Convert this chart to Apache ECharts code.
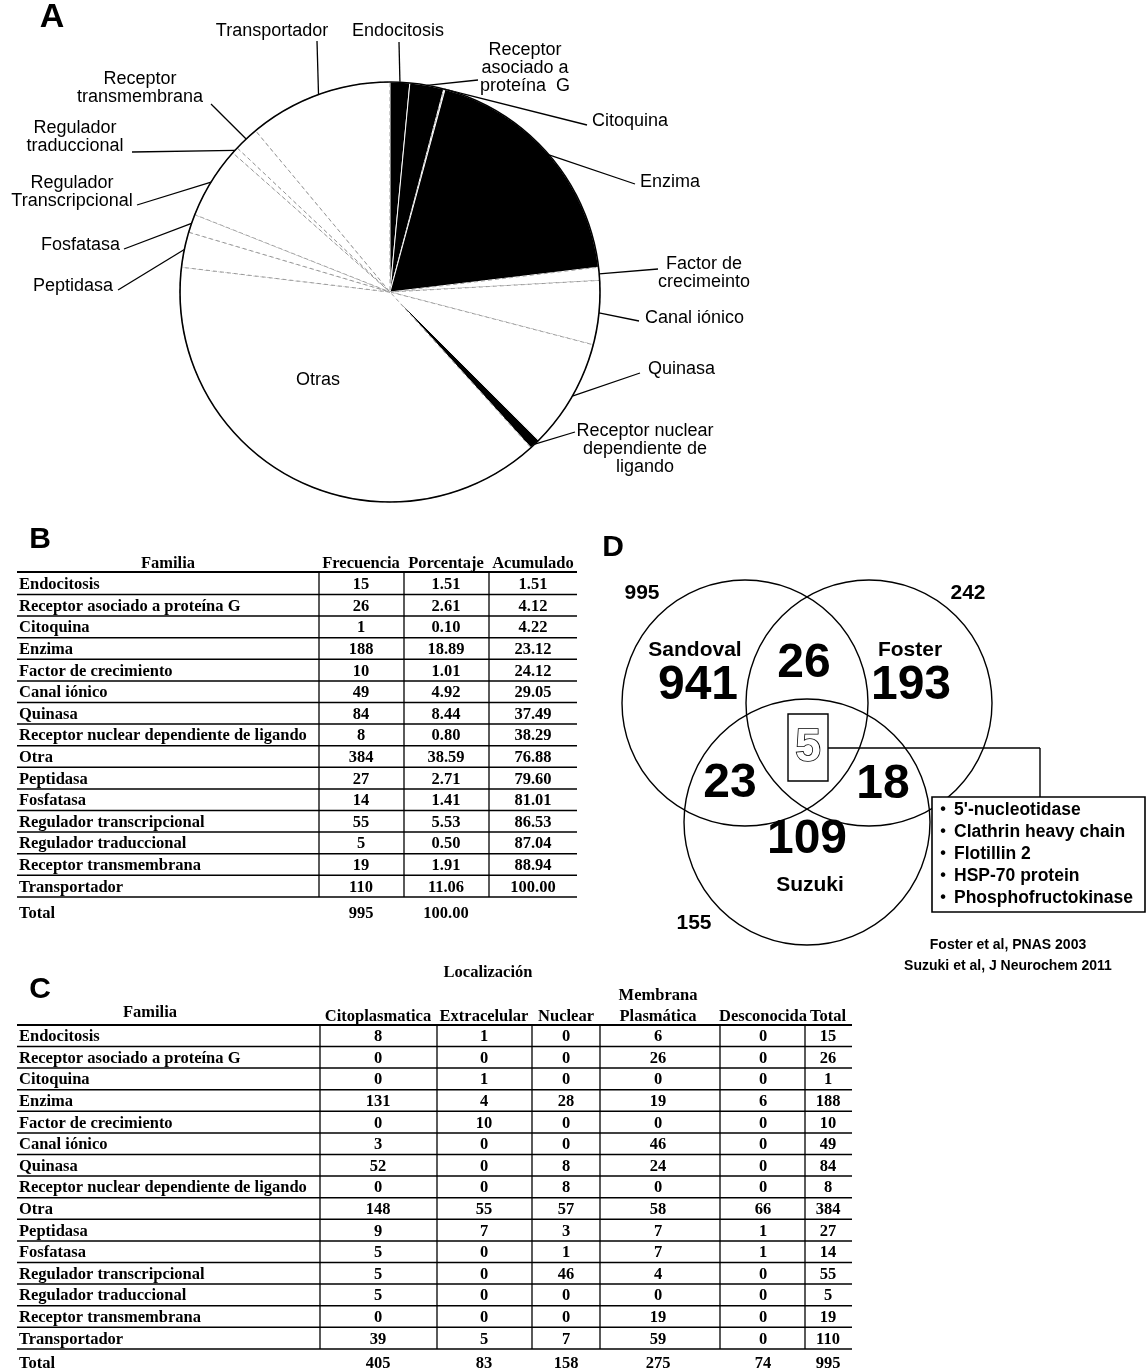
<!DOCTYPE html>
<html><head><meta charset="utf-8">
<script src="https://cdn.jsdelivr.net/npm/echarts@6/dist/echarts.min.js"></script>
<style>html,body{margin:0;padding:0;background:#fff}#c{width:1147px;height:1370px}</style>
</head><body><div id="c"></div><script>
// ---------------- DATA ----------------
const families = ['Endocitosis','Receptor asociado a proteína G','Citoquina','Enzima','Factor de crecimiento','Canal iónico','Quinasa','Receptor nuclear dependiente de ligando','Otra','Peptidasa','Fosfatasa','Regulador transcripcional','Regulador traduccional','Receptor transmembrana','Transportador'];
const pieLabels = ['Endocitosis','Receptor\nasociado a\nproteína  G','Citoquina','Enzima','Factor de\ncrecimeinto','Canal iónico','Quinasa','Receptor nuclear\ndependiente de\nligando','Otras','Peptidasa','Fosfatasa','Regulador\nTranscripcional','Regulador\ntraduccional','Receptor\ntransmembrana','Transportador'];
const frecuencia = [15,26,1,188,10,49,84,8,384,27,14,55,5,19,110];
const porcentaje = ['1.51','2.61','0.10','18.89','1.01','4.92','8.44','0.80','38.59','2.71','1.41','5.53','0.50','1.91','11.06'];
const acumulado = ['1.51','4.12','4.22','23.12','24.12','29.05','37.49','38.29','76.88','79.60','81.01','86.53','87.04','88.94','100.00'];
const headersB = ['Familia','Frecuencia','Porcentaje','Acumulado'];
const totalB = ['995','100.00'];

const headersC = ['Familia','Citoplasmatica','Extracelular','Nuclear','Plasmática','Desconocida','Total'];
const citoplasmatica = [8,0,0,131,0,3,52,0,148,9,5,5,5,0,39];
const extracelular   = [1,0,1,4,10,0,0,0,55,7,0,0,0,0,5];
const nuclear        = [0,0,0,28,0,0,8,8,57,3,1,46,0,0,7];
const membrana       = [6,26,0,19,0,46,24,0,58,7,7,4,0,19,59];
const desconocida    = [0,0,0,6,0,0,0,0,66,1,1,0,0,0,0];
const totalFila      = [15,26,1,188,10,49,84,8,384,27,14,55,5,19,110];
const totalC         = [405,83,158,275,74,995];

const vennSets   = ['Sandoval','Foster','Suzuki'];
const vennTotals = [995,242,155];
const vennOnly   = [941,193,109];
const vennPairs  = [26,23,18]; // S∩F, S∩Su, F∩Su
const vennAll    = 5;
const sharedProteins = ["5'-nucleotidase",'Clathrin heavy chain','Flotillin 2','HSP-70 protein','Phosphofructokinase'];
const references = ['Foster et al, PNAS 2003','Suzuki et al, J Neurochem 2011'];

// ---------------- LAYOUT / STYLE ----------------
const SANS = '"Liberation Sans", Arial, sans-serif';
const SERIF = '"Liberation Serif", "Times New Roman", serif';
const darkSlice = [true,true,false,true,false,false,false,true,false,false,false,false,false,false,false];
const PIE_C = [390, 292], PIE_R = 210;
// label anchor [x, y, align, lineEndX, lineEndY]
const labelPos = [
  [398, 31, 'center', 399, 42],
  [525, 68, 'center', 478, 80],
  [592, 121, 'left', 587, 125],
  [640, 182, 'left', 635, 184],
  [704, 273, 'center', 658, 269],
  [645, 318, 'left', 639, 321],
  [648, 369, 'left', 640, 373],
  [645, 449, 'center', 575, 432],
  [318, 380, 'center', null, null],
  [113, 286, 'right', 118, 290],
  [120, 245, 'right', 124, 249],
  [72, 192, 'center', 137, 205],
  [75, 137, 'center', 132, 152],
  [140, 88, 'center', 211, 104],
  [272, 31, 'center', 317, 41]
];

const totalFreq = frecuencia.reduce((a,b)=>a+b,0);
const cum = []; { let s = 0; frecuencia.forEach(v => { cum.push([s, s+v]); s += v; }); }
function edgePoint(i){
  const a = (cum[i][0]+cum[i][1])/2/totalFreq*2*Math.PI;
  return [PIE_C[0] + PIE_R*Math.sin(a), PIE_C[1] - PIE_R*Math.cos(a)];
}

const pieData = frecuencia.map((v,i)=>({
  name: pieLabels[i], value: v,
  itemStyle: darkSlice[i]
    ? {color:'#000', borderColor:'#fff', borderWidth:1}
    : {color:'#fff', borderColor:'#888', borderWidth:0.8, borderType:[4,3]},
  labelLine: {show: labelPos[i][3] !== null}
}));

const G = [];
function T(x,y,text,font,align,extra){
  G.push(Object.assign({type:'text', x, y, silent:true, style:{text, font, fill:'#000', align: align||'center', verticalAlign:'middle'}}, extra||{}));
}
function L(x1,y1,x2,y2,w){
  G.push({type:'line', silent:true, shape:{x1,y1,x2,y2}, style:{stroke:'#000', lineWidth:w||1.3}});
}

// panel letters
T(52, 18, 'A', 'bold 34px '+SANS);
T(40, 540, 'B', 'bold 30px '+SANS);
T(40, 990, 'C', 'bold 30px '+SANS);
T(613, 548, 'D', 'bold 30px '+SANS);

const FT = 'bold 16.5px '+SERIF;
// ---- Table B ----
(function(){
  const left=17, right=577, colLines=[319,404,489], cx=[361,446,533];
  const y0=585, pitch=21.6;
  T(168, 564, headersB[0], FT);
  headersB.slice(1).forEach((h,k)=>T(cx[k], 564, h, FT));
  L(left, 572, right, 572, 2);
  const cols=[frecuencia, porcentaje, acumulado];
  families.forEach((f,i)=>{
    const y = y0 + i*pitch;
    T(left+2, y, f, FT, 'left');
    cols.forEach((c,k)=>T(cx[k], y, String(c[i]), FT));
    L(left, y+9.5, right, y+9.5, 1.5);
  });
  const yEnd = y0 + (families.length-1)*pitch + 9.5;
  colLines.forEach(x=>L(x, 573, x, yEnd, 1.3));
  const yT = y0 + families.length*pitch + 5;
  T(left+2, yT, 'Total', FT, 'left');
  T(cx[0], yT, totalB[0], FT);
  T(cx[1], yT, totalB[1], FT);
})();

// ---- Table C ----
(function(){
  const left=17, right=852, colLines=[320,437,532,600,720,805], cx=[378,484,566,658,763,828];
  const y0=1037, pitch=21.6;
  T(488, 973, 'Localización', FT);
  T(cx[3], 996, 'Membrana', FT);
  T(150, 1013, headersC[0], FT);
  headersC.slice(1).forEach((h,k)=>T(cx[k], 1017, h, FT));
  L(left, 1025, right, 1025, 2);
  const cols=[citoplasmatica, extracelular, nuclear, membrana, desconocida, totalFila];
  families.forEach((f,i)=>{
    const y = y0 + i*pitch;
    T(left+2, y, f, FT, 'left');
    cols.forEach((c,k)=>T(cx[k], y, String(c[i]), FT));
    L(left, y+9.5, right, y+9.5, 1.5);
  });
  const yEnd = y0 + (families.length-1)*pitch + 9.5;
  colLines.forEach(x=>L(x, 1026, x, yEnd, 1.3));
  const yT = y0 + families.length*pitch + 3;
  T(left+2, yT, 'Total', FT, 'left');
  totalC.forEach((v,k)=>T(cx[k], yT, String(v), FT));
})();

// ---- Venn ----
(function(){
  const centers=[[745,703],[869,703],[807,822]], R=123;
  centers.forEach(c=>G.push({type:'circle', silent:true, shape:{cx:c[0], cy:c[1], r:R}, style:{fill:'none', stroke:'#000', lineWidth:1.4}}));
  const BIG = 'bold 48px '+SANS, MID = 'bold 21px '+SANS;
  T(642, 593, String(vennTotals[0]), MID);
  T(968, 593, String(vennTotals[1]), MID);
  T(694, 923, String(vennTotals[2]), MID);
  T(695, 650, vennSets[0], MID);
  T(910, 650, vennSets[1], MID);
  T(810, 885, vennSets[2], MID);
  T(698, 686, String(vennOnly[0]), BIG);
  T(911, 686, String(vennOnly[1]), BIG);
  T(807, 840, String(vennOnly[2]), BIG);
  T(804, 664, String(vennPairs[0]), BIG);
  T(730, 784, String(vennPairs[1]), BIG);
  T(883, 785, String(vennPairs[2]), BIG);
  G.push({type:'rect', silent:true, shape:{x:788, y:714, width:40, height:67}, style:{fill:'#fff', stroke:'#000', lineWidth:1.4}});
  G.push({type:'text', x:808, y:748, silent:true, style:{text:String(vennAll), font:'bold 46px '+SANS, fill:'#fff', stroke:'#000', lineWidth:1.6, align:'center', verticalAlign:'middle'}});
  L(828, 748, 1040, 748, 1.4);
  L(1040, 748, 1040, 797, 1.4);
  G.push({type:'rect', silent:true, shape:{x:932, y:797, width:213, height:115}, style:{fill:'#fff', stroke:'#000', lineWidth:1.6}});
  sharedProteins.forEach((p,i)=>{
    const y = 810 + i*22;
    T(943, y, '•', 'bold 16px '+SANS);
    T(954, y, p, 'bold 17.5px '+SANS, 'left');
  });
  references.forEach((r,i)=>T(1008, 945 + i*21, r, 'bold 14px '+SANS));
})();

const chart = echarts.init(document.getElementById('c'), null, {renderer:'canvas'});
chart.setOption({
  animation:false,
  backgroundColor:'#fff',
  series:[{
    type:'pie', center:PIE_C, radius:PIE_R, startAngle:90, clockwise:true,
    avoidLabelOverlap:false, minAngle:0, silent:true,
    data:pieData,
    label:{show:true, position:'outside', color:'#000', fontFamily:SANS, fontSize:18, lineHeight:18},
    labelLine:{show:true, length:15, length2:10, lineStyle:{color:'#000', width:1.3}},
    labelLayout:function(p){
      const i=p.dataIndex, lp=labelPos[i];
      const out={x:lp[0], y:lp[1], align:lp[2], verticalAlign:'middle'};
      if(lp[3]!==null){ const e=edgePoint(i); out.labelLinePoints=[e,[lp[3],lp[4]],[lp[3],lp[4]]]; }
      return out;
    }
  },{
    type:'pie', center:PIE_C, radius:PIE_R, silent:true, label:{show:false}, labelLine:{show:false},
    data:[{value:1, itemStyle:{color:'rgba(0,0,0,0)', borderColor:'#000', borderWidth:1.6}}]
  }],
  graphic:{elements:G}
});
</script></body></html>
